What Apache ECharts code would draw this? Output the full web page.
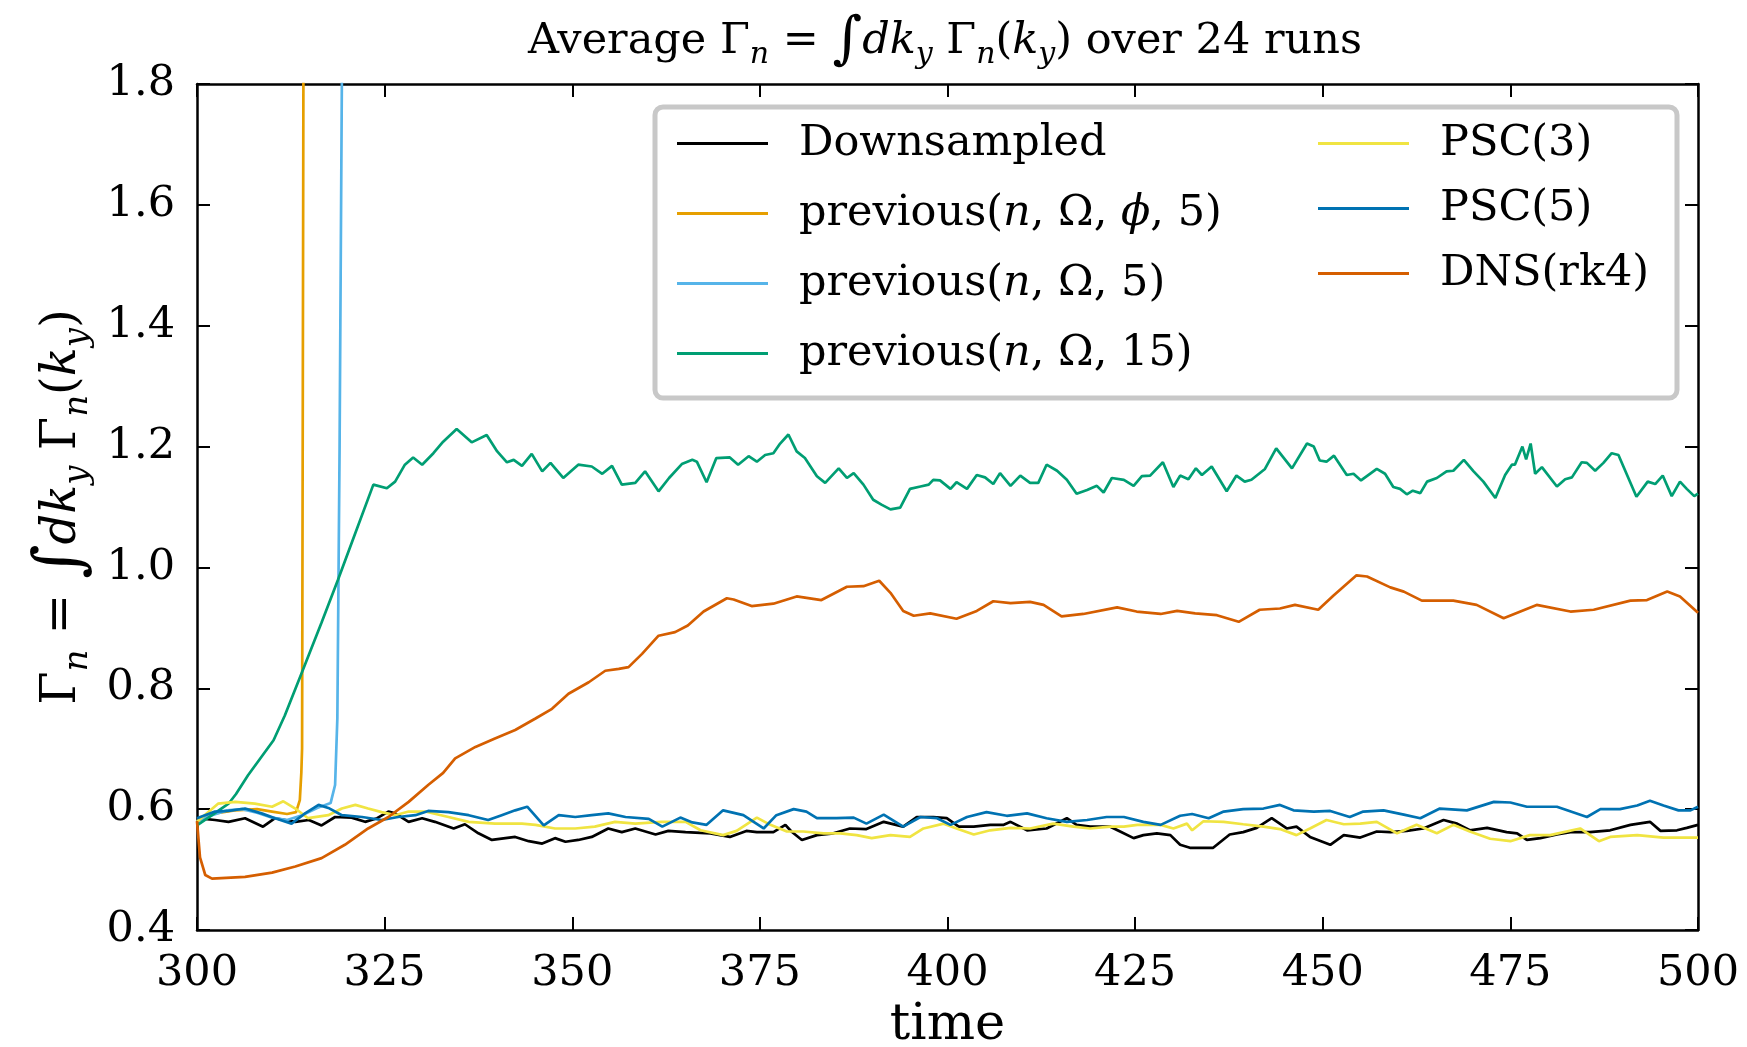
<!DOCTYPE html>
<html>
<head>
<meta charset="utf-8">
<script src="https://cdn.jsdelivr.net/npm/echarts@6/dist/echarts.min.js"></script>
<style>
  html, body { margin: 0; padding: 0; background: #fff; }
  #chart { width: 1747px; height: 1047px; }
</style>
</head>
<body>
<div id="chart"></div>
<script>
// Averaged particle flux Γn over 24 runs, time window 300..500

const xTicks = [300, 325, 350, 375, 400, 425, 450, 475, 500];
const yTicks = [0.4, 0.6, 0.8, 1.0, 1.2, 1.4, 1.6, 1.8];

const seriesNames = [
  'Downsampled',
  'previous(n, Ω, ϕ, 5)',
  'previous(n, Ω, 5)',
  'previous(n, Ω, 15)',
  'PSC(3)',
  'PSC(5)',
  'DNS(rk4)'
];

const seriesColors = ['#000000', '#E69F00', '#56B4E9', '#009E73', '#F0E442', '#0072B2', '#D55E00'];

// [time, Γn]
const downsampled = [
  [300,0.585],[300.2,0.587],[302.4,0.582],[304.2,0.579],[306.4,0.585],[308.8,0.571],[310.4,0.585],
  [313.1,0.579],[314.9,0.582],[316.6,0.573],[318.4,0.587],[320.6,0.586],[322.4,0.579],[324.0,0.585],
  [325.5,0.596],[326.4,0.593],[328.2,0.579],[330.0,0.585],[331.7,0.579],[334.2,0.568],[335.7,0.575],
  [337.5,0.560],[339.3,0.549],[341.1,0.552],[342.4,0.554],[344.2,0.547],[346.0,0.543],[347.7,0.552],
  [349.1,0.546],[350.8,0.549],[352.6,0.554],[354.8,0.568],[356.6,0.562],[358.4,0.568],[361.1,0.558],
  [362.8,0.564],[365.1,0.562],[368.4,0.560],[371.0,0.554],[373.2,0.564],[374.6,0.562],[376.8,0.562],
  [378.4,0.574],[379.2,0.563],[380.6,0.549],[382.6,0.557],[384.8,0.560],[387.0,0.568],[389.2,0.567],
  [391.5,0.579],[394.1,0.571],[395.9,0.587],[398.1,0.587],[399.9,0.585],[401.5,0.571],[403.5,0.571],
  [405.7,0.574],[407.5,0.574],[408.4,0.579],[410.6,0.565],[413.2,0.568],[415.9,0.585],[417.2,0.574],
  [419.0,0.571],[421.7,0.571],[423.0,0.563],[424.8,0.552],[426.1,0.557],[427.9,0.560],[429.7,0.557],
  [431.0,0.541],[432.3,0.536],[435.4,0.536],[437.6,0.558],[439.4,0.562],[441.2,0.569],[443.2,0.585],
  [445.2,0.568],[446.5,0.571],[448.3,0.554],[451.0,0.541],[452.8,0.557],[455.0,0.553],[457.2,0.563],
  [459.0,0.562],[461.2,0.564],[463.4,0.568],[466.1,0.582],[467.9,0.576],[469.6,0.565],[471.9,0.569],
  [474.5,0.562],[475.9,0.560],[477.2,0.549],[479.0,0.552],[481.2,0.558],[483.0,0.562],[485.6,0.562],
  [488.3,0.565],[491.0,0.574],[493.6,0.579],[495.0,0.564],[497.2,0.565],[498.5,0.569],[500,0.574]
];

const prevNOmegaPhi5 = [
  [300,0.580],[302,0.592],[305,0.598],[308,0.600],[310,0.596],[312,0.592],[313.2,0.595],
  [313.7,0.615],[313.9,0.660],[314.0,0.700],[314.1,1.300],[314.2,1.950]
];

const prevNOmega5 = [
  [300,0.580],[302,0.590],[304,0.598],[306,0.600],[308,0.594],[310,0.586],[312,0.582],
  [314,0.590],[316,0.602],[317.8,0.610],[318.4,0.640],[318.7,0.750],[319.0,1.200],[319.3,1.800],[319.4,1.950]
];

const prevNOmega15 = [
  [300,0.573],[302,0.590],[304.2,0.609],[305.2,0.625],[306.8,0.656],[308.5,0.685],[310.2,0.714],
  [311.7,0.755],[314.0,0.827],[316.6,0.909],[318.8,0.980],[321.1,1.057],[323.5,1.137],[325.3,1.131],
  [326.4,1.142],[327.7,1.170],[328.8,1.182],[330.0,1.170],[331.5,1.189],[332.8,1.208],[334.6,1.229],
  [336.6,1.207],[338.6,1.219],[340.0,1.192],[341.3,1.174],[342.2,1.178],[343.3,1.168],[344.6,1.188],
  [346.0,1.159],[347.1,1.173],[348.8,1.148],[350.8,1.170],[352.6,1.167],[354.0,1.155],[355.3,1.168],
  [356.6,1.137],[358.4,1.140],[359.7,1.159],[361.5,1.126],[362.9,1.148],[364.6,1.171],[366.0,1.178],
  [366.6,1.175],[367.9,1.141],[369.2,1.181],[371.0,1.182],[372.1,1.170],[373.5,1.184],[374.6,1.175],
  [375.7,1.186],[376.8,1.189],[377.7,1.205],[378.8,1.220],[379.9,1.192],[381.0,1.181],[382.6,1.151],
  [383.7,1.140],[385.5,1.164],[386.6,1.148],[387.5,1.156],[388.8,1.137],[390.1,1.112],[391.2,1.104],
  [392.4,1.096],[393.7,1.099],[395.0,1.130],[396.4,1.134],[397.5,1.137],[398.1,1.145],[399.0,1.144],
  [400.4,1.130],[401.2,1.141],[402.6,1.130],[403.9,1.153],[405.0,1.149],[406.1,1.138],[407.0,1.156],
  [408.4,1.135],[409.7,1.152],[411.0,1.140],[412.1,1.140],[413.2,1.170],[414.6,1.160],[415.9,1.145],
  [417.2,1.122],[418.6,1.128],[419.9,1.135],[420.8,1.124],[421.9,1.148],[423.5,1.145],[424.8,1.135],
  [425.9,1.151],[427.0,1.152],[428.7,1.174],[430.1,1.133],[431.0,1.152],[432.1,1.146],[433.1,1.164],
  [433.9,1.153],[435.2,1.167],[437.2,1.126],[438.5,1.152],[439.6,1.142],[440.5,1.145],[442.3,1.163],
  [443.8,1.197],[445.9,1.164],[447.9,1.205],[448.8,1.200],[449.6,1.177],[450.5,1.175],[451.5,1.185],
  [453.2,1.153],[454.1,1.155],[455.1,1.144],[457.2,1.163],[458.3,1.155],[459.4,1.133],[460.3,1.130],
  [461.2,1.121],[462.0,1.127],[463.0,1.123],[463.9,1.142],[465.2,1.148],[466.5,1.159],[467.4,1.160],
  [468.8,1.178],[470.1,1.159],[471.4,1.142],[473.0,1.115],[474.3,1.153],[475.2,1.170],[475.6,1.170],
  [476.6,1.200],[477.1,1.179],[477.7,1.205],[478.3,1.155],[479.2,1.166],[481.2,1.134],[482.3,1.146],
  [483.2,1.149],[484.5,1.174],[485.2,1.173],[486.3,1.160],[487.4,1.173],[488.5,1.189],[489.4,1.186],
  [491.8,1.117],[493.3,1.142],[494.3,1.138],[495.3,1.152],[496.5,1.118],[497.6,1.142],[498.5,1.130],
  [499.5,1.118],[500,1.122]
];

const psc3 = [
  [300,0.579],[302.8,0.609],[305.1,0.612],[307.7,0.609],[310.0,0.604],[311.5,0.613],[313.1,0.601],
  [314.8,0.585],[317.5,0.590],[319.3,0.601],[321.1,0.607],[322.8,0.601],[324.6,0.595],[326.4,0.590],
  [328.2,0.596],[330.4,0.596],[333.5,0.587],[336.2,0.579],[339.7,0.576],[343.3,0.576],[345.1,0.574],
  [347.7,0.568],[350.4,0.568],[353.0,0.571],[355.7,0.579],[358.4,0.576],[361.9,0.579],[365.1,0.579],
  [367.1,0.565],[370.1,0.557],[371.9,0.564],[374.6,0.586],[376.4,0.574],[378.6,0.563],[380.8,0.563],
  [383.5,0.560],[385.7,0.560],[387.9,0.557],[389.9,0.552],[392.4,0.557],[395.0,0.554],[396.8,0.568],
  [399.5,0.576],[401.2,0.568],[403.5,0.558],[405.7,0.565],[408.4,0.569],[411.0,0.568],[414.1,0.576],
  [416.8,0.571],[419.0,0.568],[421.7,0.571],[423.5,0.571],[425.3,0.574],[428.4,0.574],[430.1,0.568],
  [431.9,0.576],[432.6,0.565],[434.1,0.580],[436.8,0.579],[439.4,0.575],[442.1,0.571],[444.3,0.567],
  [446.5,0.557],[448.3,0.568],[450.5,0.582],[452.8,0.575],[455.0,0.576],[457.2,0.579],[459.9,0.560],
  [462.5,0.574],[465.2,0.560],[467.4,0.574],[469.6,0.563],[472.3,0.551],[475.0,0.547],[477.6,0.557],
  [480.3,0.557],[484.3,0.568],[486.8,0.547],[488.3,0.554],[491.9,0.557],[495.4,0.553],[500,0.553]
];

const psc5 = [
  [300,0.585],[302.4,0.596],[304.2,0.597],[306.4,0.601],[308.6,0.593],[310.4,0.585],[312.6,0.576],
  [314.4,0.593],[316.2,0.607],[317.5,0.602],[319.3,0.590],[322.0,0.587],[324.6,0.582],[326.8,0.587],
  [329.1,0.590],[330.8,0.597],[333.5,0.595],[336.2,0.590],[338.8,0.582],[340.6,0.590],[342.4,0.598],
  [344.0,0.604],[346.2,0.573],[348.2,0.590],[350.4,0.587],[352.6,0.590],[354.8,0.593],[357.1,0.587],
  [360.2,0.584],[362.0,0.571],[364.4,0.586],[366.0,0.578],[367.9,0.574],[370.1,0.598],[372.8,0.590],
  [375.5,0.568],[377.2,0.590],[379.5,0.600],[381.2,0.596],[382.6,0.585],[385.2,0.585],[387.5,0.586],
  [389.2,0.576],[391.5,0.591],[394.1,0.571],[396.4,0.587],[398.6,0.585],[400.4,0.574],[402.6,0.587],
  [405.2,0.595],[407.9,0.589],[410.6,0.593],[413.2,0.585],[415.9,0.579],[418.6,0.582],[421.2,0.587],
  [423.5,0.587],[426.1,0.579],[428.4,0.574],[431.0,0.589],[432.6,0.592],[434.8,0.585],[436.8,0.596],
  [439.4,0.600],[442.1,0.601],[444.3,0.607],[446.1,0.598],[448.8,0.596],[451.0,0.597],[453.6,0.587],
  [455.4,0.596],[458.1,0.598],[460.8,0.591],[463.0,0.585],[465.6,0.601],[469.2,0.598],[472.8,0.612],
  [475.0,0.611],[477.2,0.604],[481.2,0.604],[485.2,0.587],[487.0,0.600],[489.6,0.600],[491.9,0.606],
  [493.6,0.614],[495.4,0.606],[497.4,0.598],[499.0,0.598],[500,0.604]
];

const dnsRk4 = [
  [300,0.580],[300.4,0.520],[301.1,0.491],[302,0.485],[306.4,0.488],[310,0.495],[313.1,0.505],
  [316.6,0.519],[319.7,0.541],[322.8,0.568],[325.5,0.587],[328.2,0.612],[330.8,0.640],[332.8,0.660],
  [334.4,0.684],[337.1,0.703],[339.7,0.717],[342.4,0.731],[345.1,0.750],[347.3,0.766],[349.5,0.791],
  [352.2,0.810],[354.4,0.829],[356.2,0.832],[357.5,0.835],[359.3,0.857],[361.5,0.887],[363.7,0.893],
  [365.4,0.904],[367.5,0.927],[370.6,0.949],[371.5,0.947],[373.9,0.936],[376.8,0.940],[379.9,0.952],
  [383.2,0.946],[386.6,0.968],[388.8,0.969],[390.9,0.978],[392.4,0.958],[394.1,0.928],[395.5,0.920],
  [397.7,0.924],[401.2,0.915],[403.9,0.928],[406.1,0.944],[408.4,0.941],[411.0,0.943],[412.8,0.938],
  [415.2,0.919],[418.1,0.923],[422.6,0.934],[425.2,0.927],[428.4,0.923],[430.6,0.928],[433.0,0.924],
  [435.9,0.921],[438.8,0.910],[441.6,0.930],[444.3,0.932],[446.3,0.938],[449.4,0.930],[451.4,0.953],
  [454.5,0.987],[455.9,0.985],[459.0,0.967],[460.8,0.960],[463.2,0.945],[467.4,0.945],[470.5,0.938],
  [474.1,0.916],[478.5,0.938],[483.0,0.927],[486.1,0.930],[491.0,0.945],[493.2,0.946],[495.9,0.960],
  [497.6,0.952],[500,0.925]
];

const seriesData = [downsampled, prevNOmegaPhi5, prevNOmega5, prevNOmega15, psc3, psc5, dnsRk4];

const FONT = 'DejaVu Serif';
const TICK_FS = 43;
const LEGEND_FS = 43;

const subStyle = (fs) => ({ fontFamily: FONT, fontSize: fs, fontStyle: 'italic', color: '#000', verticalAlign: 'bottom', lineHeight: fs });
const plainStyle = (fs, lh) => ({ fontFamily: FONT, fontSize: fs, color: '#000', lineHeight: lh });
const italStyle = (fs, lh) => ({ fontFamily: FONT, fontSize: fs, fontStyle: 'italic', color: '#000', lineHeight: lh });

function legendLabel(name) {
  return name.replace('(n,', '({it|n},').replace('ϕ', '{it|ϕ}');
}

const chart = echarts.init(document.getElementById('chart'), null, { renderer: 'canvas' });

const legendText = {
  fontFamily: FONT, fontSize: LEGEND_FS, color: '#000', lineHeight: 40, padding: [0, 0, 0, 26],
  rich: { it: italStyle(LEGEND_FS, 40) }
};

const option = {
  backgroundColor: '#ffffff',
  animation: false,
  title: {
    text: 'Average {g|Γ}{sub|n} = {int|∫}{it|dk}{sub|y} {g|Γ}{sub|n}({it|k}{sub|y}) over 24 runs',
    left: 945,
    textAlign: 'center',
    top: 14,
    padding: 0,
    textStyle: {
      fontFamily: FONT, fontSize: 43, fontWeight: 'normal', color: '#000', lineHeight: 56,
      rich: {
        g: plainStyle(43, 56),
        it: italStyle(43, 56),
        sub: subStyle(30),
        int: plainStyle(57, 56)
      }
    }
  },
  grid: { left: 197, right: 49, top: 84, bottom: 117, containLabel: false, outerBoundsMode: 'none' },
  legend: [
    {
      data: seriesNames.slice(0, 4),
      orient: 'vertical', left: 672, top: 117, itemGap: 27,
      icon: 'rect', itemWidth: 91, itemHeight: 3,
      formatter: legendLabel, textStyle: legendText, z: 10, selectedMode: false
    },
    {
      data: seriesNames.slice(4),
      orient: 'vertical', left: 1313, top: 117, itemGap: 22,
      icon: 'rect', itemWidth: 91, itemHeight: 3,
      formatter: legendLabel, textStyle: legendText, z: 10, selectedMode: false
    }
  ],
  graphic: [
    {
      type: 'rect', z: 5,
      shape: { x: 655, y: 107, width: 1022, height: 291, r: 8 },
      style: { fill: '#ffffff', stroke: '#c8c8c8', lineWidth: 5 }
    }
  ],
  xAxis: [
    {
      type: 'value', min: xTicks[0], max: xTicks[xTicks.length - 1], interval: 25,
      name: 'time', nameLocation: 'middle', nameGap: 68,
      nameTextStyle: { fontFamily: FONT, fontSize: 51, color: '#000' },
      axisLine: { show: true, onZero: false, lineStyle: { color: '#000', width: 2.5 } },
      axisTick: { show: true, inside: true, length: 13, lineStyle: { color: '#000', width: 2 } },
      axisLabel: { fontFamily: FONT, fontSize: TICK_FS, color: '#000', margin: 22 },
      splitLine: { show: false }
    },
    {
      type: 'value', position: 'top', min: xTicks[0], max: xTicks[xTicks.length - 1], interval: 25,
      axisLine: { show: true, onZero: false, lineStyle: { color: '#000', width: 2.5 } },
      axisTick: { show: true, inside: true, length: 13, lineStyle: { color: '#000', width: 2 } },
      axisLabel: { show: false },
      splitLine: { show: false }
    }
  ],
  yAxis: [
    {
      type: 'value', min: yTicks[0], max: yTicks[yTicks.length - 1], interval: 0.2,
      name: '{g|Γ}{sub|n} = {int|∫}{it|dk}{sub|y} {g|Γ}{sub|n}({it|k}{sub|y})',
      nameLocation: 'middle', nameGap: 101, nameRotate: 90,
      nameTextStyle: {
        fontFamily: FONT, fontSize: 48, color: '#000', lineHeight: 64,
        rich: {
          g: plainStyle(48, 64),
          it: italStyle(48, 64),
          sub: subStyle(34),
          int: plainStyle(66, 64)
        }
      },
      axisLine: { show: true, onZero: false, lineStyle: { color: '#000', width: 2.5 } },
      axisTick: { show: true, inside: true, length: 13, lineStyle: { color: '#000', width: 2 } },
      axisLabel: {
        fontFamily: FONT, fontSize: TICK_FS, color: '#000', margin: 22,
        formatter: (v) => v.toFixed(1)
      },
      splitLine: { show: false }
    },
    {
      type: 'value', position: 'right', min: yTicks[0], max: yTicks[yTicks.length - 1], interval: 0.2,
      axisLine: { show: true, onZero: false, lineStyle: { color: '#000', width: 2.5 } },
      axisTick: { show: true, inside: true, length: 13, lineStyle: { color: '#000', width: 2 } },
      axisLabel: { show: false },
      splitLine: { show: false }
    }
  ],
  series: seriesNames.map((name, i) => ({
    name: name,
    type: 'line',
    xAxisIndex: 0,
    yAxisIndex: 0,
    data: seriesData[i],
    showSymbol: false,
    symbol: 'none',
    clip: true,
    color: seriesColors[i],
    lineStyle: { color: seriesColors[i], width: 2.7 },
    z: 2 + i * 0.01
  }))
};

chart.setOption(option);
</script>
</body>
</html>
